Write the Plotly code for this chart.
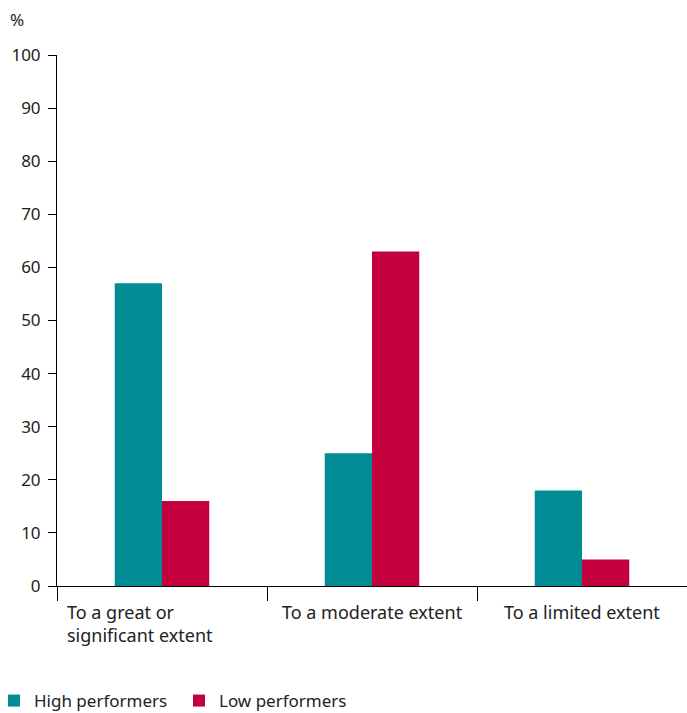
import plotly.graph_objects as go

categories = ["To a great or<br>significant extent", "To a moderate extent", "To a limited extent"]
high_performers = [57, 25, 18]
low_performers = [16, 63, 5]
y_ticks = [0, 10, 20, 30, 40, 50, 60, 70, 80, 90, 100]

TEAL = "#008B95"
CRIMSON = "#C4003F"
FONT = "Noto Sans"
TEXT = "#222222"

fig = go.Figure()
fig.add_trace(go.Bar(x=categories, y=high_performers, name="High performers",
                     marker=dict(color=TEAL, line=dict(width=0))))
fig.add_trace(go.Bar(x=categories, y=low_performers, name="Low performers",
                     marker=dict(color=CRIMSON, line=dict(width=0))))

# Category labels drawn under each band
for i, cat in enumerate(categories):
    if i == 0:
        fig.add_annotation(x=i - 0.5, y=0, xref="x", yref="paper", text=cat,
                           showarrow=False, xanchor="left", yanchor="top", align="left",
                           xshift=8, yshift=-12, font=dict(family=FONT, size=18, color=TEXT))
    else:
        fig.add_annotation(x=i, y=0, xref="x", yref="paper", text=cat,
                           showarrow=False, xanchor="center", yanchor="top", align="center",
                           yshift=-12, font=dict(family=FONT, size=18, color=TEXT))

fig.add_annotation(x=0, y=1, xref="paper", yref="paper", text="%", showarrow=False,
                   xanchor="left", yanchor="bottom", xshift=-49, yshift=22,
                   font=dict(family=FONT, size=17, color=TEXT))

fig.update_layout(
    width=687, height=713,
    margin=dict(l=57, r=0, t=55, b=127, autoexpand=False),
    paper_bgcolor="white", plot_bgcolor="white",
    barmode="group", bargap=0.55, bargroupgap=0,
    font=dict(family=FONT, size=17, color=TEXT),
    showlegend=True,
    legend=dict(orientation="h", x=-0.1, y=-0.2166, xanchor="left", yanchor="middle",
                font=dict(family=FONT, size=17, color=TEXT), traceorder="normal",
                itemwidth=30, entrywidth=140),
    xaxis=dict(type="category", range=[-0.5, 2.5], showline=True, linecolor="black",
               linewidth=1, ticks="outside", tickson="boundaries", ticklen=14,
               tickcolor="black", showticklabels=False, showgrid=False, zeroline=False),
    yaxis=dict(range=[0, 100], tickvals=y_ticks, showline=True, linecolor="black",
               linewidth=1, ticks="outside", ticklen=8, tickcolor="black",
               showgrid=False, zeroline=False, ticklabelstandoff=4,
               tickfont=dict(family=FONT, size=17, color=TEXT)),
)

fig.write_html("out.html")
